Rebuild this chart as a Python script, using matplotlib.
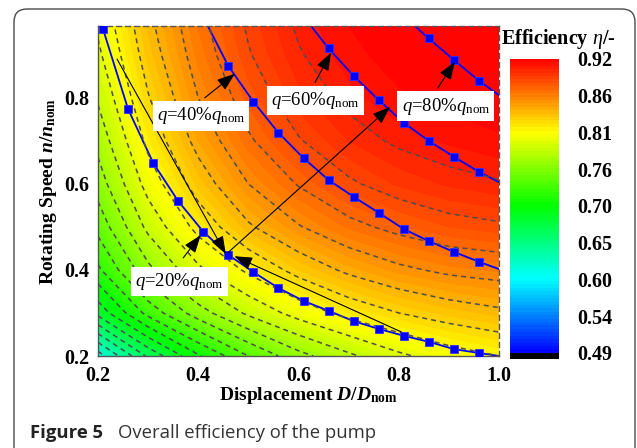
import numpy as np
import matplotlib
matplotlib.use("Agg")
import matplotlib.pyplot as plt
from matplotlib.colors import LinearSegmentedColormap
from matplotlib.patches import FancyBboxPatch

plt.rcParams["font.family"] = ["Liberation Serif", "DejaVu Serif"]
plt.rcParams["mathtext.fontset"] = "custom"
plt.rcParams["mathtext.rm"] = "Liberation Serif"
plt.rcParams["mathtext.it"] = "Liberation Serif:italic"
plt.rcParams["mathtext.bf"] = "Liberation Serif:bold"
plt.rcParams["mathtext.bfit"] = "Liberation Serif:italic:bold"
plt.rcParams["lines.scale_dashes"] = False
plt.rcParams["lines.dashed_pattern"] = [3.6, 2.9]

# ---------------- data ----------------
disp = [0.2, 0.3, 0.4, 0.5, 0.6, 0.7, 0.8, 0.9, 1.0]          # D/Dnom
speed = [0.2, 0.3, 0.4, 0.5, 0.6, 0.7, 0.8, 0.9, 1.0]         # n/nnom
eta = [  # rows: speed, cols: displacement
    [0.612, 0.668, 0.708, 0.740, 0.765, 0.782, 0.797, 0.808, 0.815],
    [0.685, 0.730, 0.763, 0.788, 0.806, 0.820, 0.830, 0.837, 0.842],
    [0.722, 0.766, 0.797, 0.818, 0.835, 0.848, 0.857, 0.863, 0.866],
    [0.745, 0.789, 0.820, 0.843, 0.859, 0.871, 0.879, 0.885, 0.888],
    [0.762, 0.806, 0.837, 0.860, 0.876, 0.888, 0.896, 0.901, 0.904],
    [0.775, 0.819, 0.850, 0.873, 0.889, 0.900, 0.907, 0.911, 0.914],
    [0.787, 0.829, 0.860, 0.882, 0.898, 0.908, 0.914, 0.917, 0.919],
    [0.797, 0.837, 0.867, 0.889, 0.904, 0.913, 0.918, 0.920, 0.920],
    [0.805, 0.843, 0.872, 0.893, 0.908, 0.916, 0.920, 0.920, 0.920],
]

q20_D = [0.21, 0.26, 0.31, 0.36, 0.41, 0.46, 0.51, 0.56, 0.61, 0.66, 0.71, 0.76, 0.81, 0.86, 0.91, 0.96, 1.00]
q20_n = [0.960, 0.774, 0.649, 0.560, 0.489, 0.435, 0.395, 0.358, 0.328, 0.305, 0.281, 0.263, 0.247, 0.233, 0.216, 0.207, 0.200]
q40_D = [0.42, 0.46, 0.51, 0.56, 0.61, 0.66, 0.71, 0.76, 0.81, 0.86, 0.91, 0.96, 1.00]
q40_n = [0.965, 0.874, 0.791, 0.719, 0.660, 0.609, 0.570, 0.533, 0.495, 0.467, 0.442, 0.419, 0.402]
q60_D = [0.625, 0.66, 0.71, 0.76, 0.81, 0.86, 0.91, 0.96, 1.00]
q60_n = [0.967, 0.915, 0.851, 0.795, 0.742, 0.700, 0.663, 0.628, 0.604]
q80_D = [0.832, 0.86, 0.91, 0.96, 1.00]
q80_n = [0.967, 0.938, 0.888, 0.840, 0.806]

cb_ticks = [0.49, 0.54375, 0.5975, 0.65125, 0.705, 0.75875, 0.8125, 0.86625, 0.92]
cb_labels = ["0.49", "0.54", "0.60", "0.65", "0.70", "0.76", "0.81", "0.86", "0.92"]
x_ticks = [0.2, 0.4, 0.6, 0.8, 1.0]
y_ticks = [0.2, 0.4, 0.6, 0.8]

# ---------------- figure ----------------
W, H = 637, 448
fig = plt.figure(figsize=(W / 100, H / 100), dpi=100)

border = FancyBboxPatch((0.14, -0.3), 6.21, 4.69, boxstyle="round,pad=0,rounding_size=0.13",
                        transform=fig.dpi_scale_trans, facecolor="none",
                        edgecolor="#4a4a4a", linewidth=1.0, clip_on=False)
fig.add_artist(border)

ax = fig.add_axes([98 / W, 92 / H, 401 / W, 330 / H])
cax = fig.add_axes([510 / W, 89 / H, 49 / W, 300 / H])

cmap = LinearSegmentedColormap.from_list(
    "rainbow5", ["#0000ff", "#00ffff", "#00ff00", "#ffff00", "#ff0000"])
cmap.set_under("black")

Dg, Ng = np.meshgrid(disp, speed)
Z = np.array(eta)
fill_levels = np.linspace(0.49, 0.92, 87)
cs = ax.contourf(Dg, Ng, Z, levels=fill_levels, cmap=cmap, extend="min", zorder=0)
line_levels = np.arange(0.62, 0.92, 0.015)
ax.contour(Dg, Ng, Z, levels=line_levels, colors="#4d4d4d", linewidths=1.1,
           linestyles="dashed", zorder=3)

# constant-flow lines
for Dq, nq in [(q20_D, q20_n), (q40_D, q40_n), (q60_D, q60_n), (q80_D, q80_n)]:
    ax.plot(Dq, nq, color="#0000ff", lw=1.3, zorder=2)
for Dq, nq, mk in [(q20_D, q20_n, slice(0, -1)), (q40_D, q40_n, slice(1, -1)),
                   (q60_D, q60_n, slice(1, -1)), (q80_D, q80_n, slice(1, -1))]:
    ax.plot(Dq[mk], nq[mk], ls="none", marker="s", ms=6.3, mfc="#0000ff",
            mec="#3030ff", mew=0.6, zorder=4)

arrow = dict(arrowstyle="-|>,head_length=0.55,head_width=0.2", color="black",
             lw=0.8, mutation_scale=20, shrinkA=0, shrinkB=0)

# black lines with arrow heads meeting on q=20% curve
ax.annotate("", xy=(0.455, 0.437), xytext=(0.238, 0.890), arrowprops=arrow, zorder=5)
ax.annotate("", xy=(0.472, 0.432), xytext=(0.805, 0.256), arrowprops=arrow, zorder=5)
ax.annotate("", xy=(0.783, 0.779), xytext=(0.459, 0.440), arrowprops=arrow, zorder=5)

# labels
box = dict(facecolor="white", edgecolor="none", boxstyle="square,pad=0.22")
labels = [
    (r"$q$=20%$q_{\mathrm{nom}}$", (0.362, 0.374), (0.370, 0.428), (0.405, 0.481)),
    (r"$q$=40%$q_{\mathrm{nom}}$", (0.4055, 0.758), (0.413, 0.800), (0.473, 0.856)),
    (r"$q$=60%$q_{\mathrm{nom}}$", (0.633, 0.794), (0.633, 0.836), (0.665, 0.905)),
    (r"$q$=80%$q_{\mathrm{nom}}$", (0.894, 0.781), (0.878, 0.823), (0.912, 0.884)),
]
for txt, pos, tail, tip in labels:
    ax.annotate("", xy=tip, xytext=tail, arrowprops=arrow, zorder=6)
    ax.text(pos[0], pos[1], txt, fontsize=13.5, ha="center", va="center",
            bbox=box, zorder=7)

ax.set_xlim(0.2, 1.0)
ax.set_ylim(0.2, 0.967)
ax.set_xticks(x_ticks)
ax.set_xticklabels(["%.1f" % v for v in x_ticks])
ax.set_yticks(y_ticks)
ax.set_yticklabels(["%.1f" % v for v in y_ticks])
ax.tick_params(length=0, labelsize=14.5)
ax.tick_params(axis="x", pad=7)
ax.tick_params(axis="y", pad=6)
for t in ax.get_xticklabels() + ax.get_yticklabels():
    t.set_fontweight("bold")
for s in ["top", "right"]:
    ax.spines[s].set_linestyle((0, (3.6, 2.9)))
for s in ax.spines.values():
    s.set_color("#555555")
    s.set_linewidth(1.0)

ax.set_xlabel(r"Displacement $\mathbfit{D}\mathbf{/}\mathbfit{D}_{\mathbf{nom}}$",
              fontsize=14, fontweight="bold")
ax.xaxis.set_label_coords(0.524, -0.088)
ax.set_ylabel(r"Rotating Speed $\mathbfit{n}\mathbf{/}\mathbfit{n}_{\mathbf{nom}}$",
              fontsize=14, fontweight="bold")
ax.yaxis.set_label_coords(-0.097, 0.5)

cb = fig.colorbar(cs, cax=cax, extend="min", extendrect=True, extendfrac=0.021,
                  ticks=cb_ticks)
cb.set_ticklabels(cb_labels)
cb.outline.set_visible(False)
cax.tick_params(length=0, labelsize=14.5, pad=13)
for t in cax.get_yticklabels():
    t.set_fontweight("bold")

fig.text(558 / W, 1 - 39 / H, r"Efficiency $\eta$/-", fontsize=14.5, fontweight="bold",
         ha="center", va="center")

fig.text(30 / W, 1 - 438 / H, "Figure 5", family="Open Sans", fontweight="bold",
         fontsize=13.3, color="#222222", va="baseline")
fig.text(118 / W, 1 - 438 / H, "Overall efficiency of the pump", family="Open Sans",
         fontsize=13.3, color="#333333", va="baseline")

fig.savefig("out.png", dpi=100)
